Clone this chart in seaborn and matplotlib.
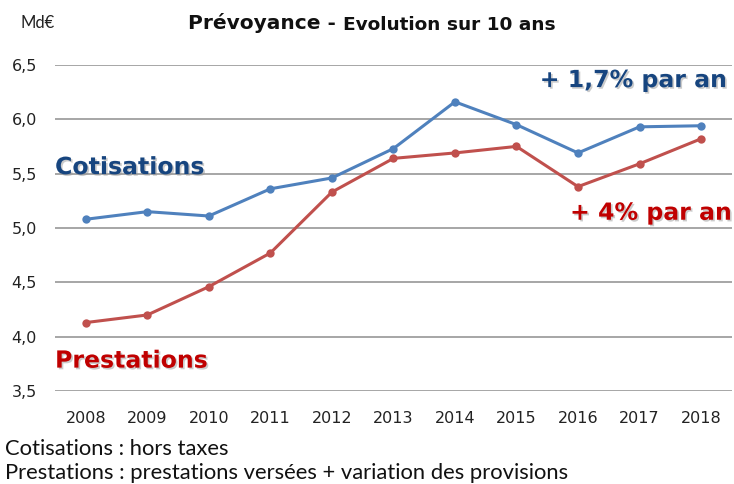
import matplotlib
matplotlib.use("Agg")
import matplotlib.pyplot as plt
import matplotlib.patheffects as pe
import seaborn as sns
import pandas as pd

years = ["2008", "2009", "2010", "2011", "2012", "2013", "2014", "2015", "2016", "2017", "2018"]
cotisations = [5.08, 5.15, 5.11, 5.36, 5.46, 5.73, 6.16, 5.95, 5.69, 5.93, 5.94]
prestations = [4.13, 4.20, 4.46, 4.77, 5.33, 5.64, 5.69, 5.75, 5.38, 5.59, 5.82]
y_ticks = [3.5, 4.0, 4.5, 5.0, 5.5, 6.0, 6.5]
y_labels = ["3,5", "4,0", "4,5", "5,0", "5,5", "6,0", "6,5"]

df = pd.DataFrame({
    "year": years * 2,
    "x": list(range(len(years))) * 2,
    "value": cotisations + prestations,
    "serie": ["Cotisations"] * len(years) + ["Prestations"] * len(years),
})

sns.set_style("white")
plt.rcParams["font.family"] = ["DejaVu Sans"]
fig = plt.figure(figsize=(7.34, 4.84), dpi=100)
ax = fig.add_axes([0.075, 0.192, 0.922, 0.674])

sns.lineplot(data=df, x="x", y="value", hue="serie",
             palette={"Cotisations": "#4F81BD", "Prestations": "#C0504D"},
             marker="o", markersize=6, markeredgewidth=0, linewidth=2.2,
             legend=False, ax=ax, zorder=3)

ax.set_xlim(-0.5, len(years) - 0.5)
ax.set_ylim(3.5, 6.5)
ax.set_yticks(y_ticks)
ax.set_yticklabels(y_labels)
ax.set_xticks(range(len(years)))
ax.set_xticklabels(years)
ax.yaxis.grid(True, color="#a6a6a6", linewidth=1.4)
ax.set_axisbelow(True)
for s in ax.spines.values():
    s.set_visible(False)
ax.tick_params(axis="both", length=0, labelsize=11.5, colors="#222222")
ax.tick_params(axis="y", pad=13)
ax.tick_params(axis="x", pad=14)
ax.set_xlabel("")
ax.set_ylabel("")

shadow = [pe.withSimplePatchShadow(offset=(1.2, -1.2), shadow_rgbFace="#999999", alpha=0.5)]
ax.text(-0.5, 5.56, "Cotisations", color="#17457F", fontsize=17, fontweight="bold",
        ha="left", va="center", path_effects=shadow)
ax.text(-0.5, 3.78, "Prestations", color="#C00000", fontsize=17, fontweight="bold",
        ha="left", va="center", path_effects=shadow)
ax.text(10.42, 6.36, "+ 1,7% par an", color="#17457F", fontsize=17, fontweight="bold",
        ha="right", va="center", path_effects=shadow)
ax.text(10.5, 5.14, "+ 4% par an", color="#C00000", fontsize=17, fontweight="bold",
        ha="right", va="center", path_effects=shadow)

fig.text(0.028, 0.952, "Md€", fontsize=12, family="Lato", ha="left", va="center", color="#222222")
fig.text(0.256, 0.952, "Prévoyance -", fontsize=14.5, fontweight="bold",
         ha="left", va="center", color="#111111")
fig.text(0.467, 0.949, "Evolution sur 10 ans", fontsize=13.3, fontweight="bold",
         ha="left", va="center", color="#111111")

fig.text(0.007, 0.072, "Cotisations : hors taxes", fontsize=15.8, family="Lato",
         ha="left", va="center", color="#111111")
fig.text(0.007, 0.022, "Prestations : prestations versées + variation des provisions", fontsize=15.8,
         family="Lato", ha="left", va="center", color="#111111")

fig.savefig("out.png", dpi=100)
